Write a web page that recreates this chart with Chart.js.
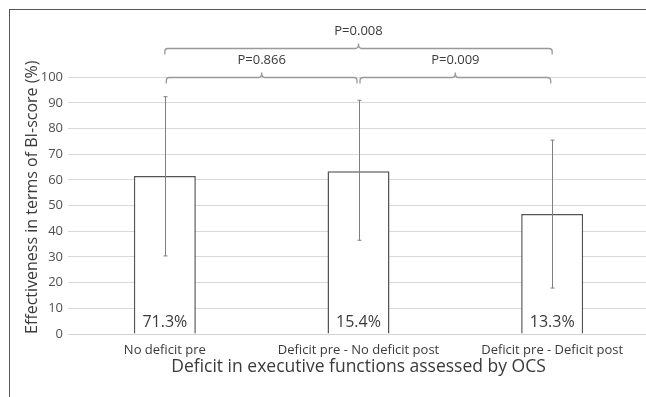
<!DOCTYPE html>
<html>
<head>
<meta charset="utf-8">
<script src="https://cdn.jsdelivr.net/npm/chart.js@4.4.1/dist/chart.umd.min.js"></script>
<style>
  html, body { margin: 0; padding: 0; background: #fff; overflow: hidden; }
  #frame { position: absolute; left: 9px; top: 9px; width: 700px; height: 500px;
           border-top: 1.5px solid #555555; border-left: 1.5px solid #555555; }
  #wrap { position: absolute; left: 0; top: 0; width: 652px; height: 397px; }
</style>
</head>
<body>
<div id="frame"></div>
<div id="wrap"><canvas id="effChart"></canvas></div>
<script>
const categories = ['No deficit pre', 'Deficit pre - No deficit post', 'Deficit pre - Deficit post'];
const meanScores = [61.5, 63.4, 46.7];
const errLow = [30.4, 36.5, 17.9];
const errHigh = [92.4, 91.0, 75.5];
const shares = ['71.3%', '15.4%', '13.3%'];
const yTicks = [0, 10, 20, 30, 40, 50, 60, 70, 80, 90, 100];
const comparisons = [[0, 1], [1, 2], [0, 2]];
const pValues = ['P=0.866', 'P=0.009', 'P=0.008'];

const FONT = '"Open Sans", "Noto Sans", sans-serif';
const TEXT = '#3a3a3a';

// error bars, share labels and significance brackets
const extras = {
    id: 'extras',
    afterDatasetsDraw(chart) {
        const ctx = chart.ctx;
        const y = chart.scales.y;
        const bars = chart.getDatasetMeta(0).data;
        ctx.save();

        // error bars
        ctx.strokeStyle = '#7f7f7f';
        ctx.lineWidth = 1;
        bars.forEach((bar, i) => {
            const x = Math.round(bar.x) + 0.5;
            const top = y.getPixelForValue(errHigh[i]);
            const bot = y.getPixelForValue(errLow[i]);
            ctx.beginPath();
            ctx.moveTo(x, top);
            ctx.lineTo(x, bot);
            ctx.moveTo(x - 2, top);
            ctx.lineTo(x + 2, top);
            ctx.moveTo(x - 2, bot);
            ctx.lineTo(x + 2, bot);
            ctx.stroke();
        });

        // share labels at the bottom of each bar
        ctx.fillStyle = TEXT;
        ctx.font = '16px ' + FONT;
        ctx.textAlign = 'center';
        ctx.textBaseline = 'middle';
        bars.forEach((bar, i) => {
            ctx.fillText(shares[i], bar.x, y.getPixelForValue(0) - 12);
        });

        // brackets
        ctx.strokeStyle = '#999999';
        ctx.lineWidth = 1.3;
        ctx.font = '13px ' + FONT;
        comparisons.forEach(([a, b], k) => {
            const span = b - a;
            const level = span === 1 ? 100 : 111.3;
            const inset = span === 1 ? 1.5 : 0;
            const x1 = bars[a].x + inset;
            const x2 = bars[b].x - inset;
            const yy = Math.round(y.getPixelForValue(level)) + 0.5;
            const mid = (x1 + x2) / 2;
            const r = 3, drop = 6;
            ctx.beginPath();
            ctx.moveTo(x1, yy + drop);
            ctx.arcTo(x1, yy, x1 + r, yy, r);
            ctx.lineTo(mid - 3, yy);
            ctx.quadraticCurveTo(mid, yy, mid, yy - 5);
            ctx.quadraticCurveTo(mid, yy, mid + 3, yy);
            ctx.lineTo(x2 - r, yy);
            ctx.arcTo(x2, yy, x2, yy + drop, r);
            ctx.lineTo(x2, yy + drop);
            ctx.stroke();
            ctx.fillStyle = TEXT;
            ctx.fillText(pValues[k], mid, yy - 17);
        });
        ctx.restore();
    }
};

new Chart(document.getElementById('effChart').getContext('2d'), {
    type: 'bar',
    data: {
        labels: categories,
        datasets: [{
            data: meanScores,
            backgroundColor: '#ffffff',
            borderColor: '#555555',
            borderWidth: 1.5,
            categoryPercentage: 1,
            barPercentage: 0.32
        }]
    },
    options: {
        responsive: true,
        maintainAspectRatio: false,
        animation: false,
        layout: { padding: { top: 13, right: 3, bottom: 0, left: 0 } },
        plugins: { legend: { display: false }, tooltip: { enabled: false } },
        scales: {
            x: {
                grid: { display: false },
                border: { display: true, color: '#d4d4d4' },
                ticks: { color: TEXT, font: { family: FONT, size: 13 }, padding: 0, maxRotation: 0 },
                title: {
                    display: true,
                    text: 'Deficit in executive functions assessed by OCS',
                    color: TEXT,
                    font: { family: FONT, size: 17.5 },
                    padding: { top: 0, bottom: 19 }
                },
                afterFit: s => { s.height = 63; }
            },
            y: {
                min: 0,
                max: 125,
                grid: { color: '#d9d9d9', drawTicks: false },
                border: { display: false },
                ticks: { color: '#505050', font: { family: FONT, size: 13 }, padding: 5 },
                afterBuildTicks: s => { s.ticks = yTicks.map(v => ({ value: v })); },
                title: {
                    display: true,
                    text: 'Effectiveness in terms of BI-score (%)',
                    align: 'start',
                    color: TEXT,
                    font: { family: FONT, size: 16 },
                    padding: { top: 23, bottom: 0 }
                },
                afterFit: s => { s.width = 68; }
            }
        }
    },
    plugins: [extras]
});
</script>
</body>
</html>
